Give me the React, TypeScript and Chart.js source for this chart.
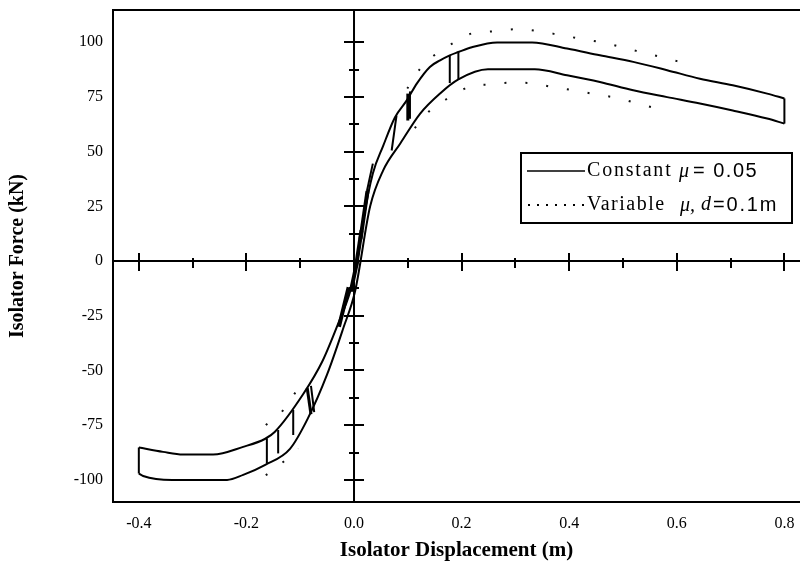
import React, { useEffect, useRef } from "react";
import { Chart, registerables } from "chart.js";

Chart.register(...registerables);

// ---- Constant mu = 0.05 : upper (loading) branch ----
const constUpperX = [-0.4, -0.355, -0.318, -0.262, -0.206, -0.165, -0.147, -0.095, -0.059, -0.03, -0.007, 0.006, 0.017, 0.035, 0.054, 0.076, 0.098, 0.117, 0.141, 0.16, 0.178, 0.194, 0.219, 0.266, 0.331, 0.396, 0.457, 0.519, 0.582, 0.643, 0.704, 0.768, 0.8];
const constUpperF = [-85.2, -87.2, -88.4, -88.4, -84.9, -81.2, -78.0, -61.0, -45.9, -28.9, -13.8, 0, 18.3, 40, 52.5, 65.6, 73.4, 81.2, 88.7, 91.7, 94.0, 95.5, 97.7, 99.9, 99.9, 97.1, 94.0, 91.0, 87.2, 83.3, 80.3, 76.5, 74.3];

// ---- Constant mu = 0.05 : lower (unloading) branch ----
const constLowerX = [-0.4, -0.392, -0.338, -0.236, -0.206, -0.165, -0.119, -0.086, -0.05, -0.02, 0.002, 0.03, 0.054, 0.086, 0.123, 0.16, 0.194, 0.249, 0.336, 0.396, 0.457, 0.519, 0.582, 0.643, 0.704, 0.768, 0.8];
const constLowerF = [-97.1, -98.2, -100, -100, -97.7, -93.1, -85.8, -72.0, -51.8, -30.7, -13.8, 25, 41.3, 53.7, 67.4, 76.6, 83.0, 87.6, 87.6, 84.9, 81.8, 78.0, 74.9, 72.0, 68.8, 65.1, 62.8];

// ---- Constant mu: reversal segments (end caps and inner sub-loops) ----
const segX1 = [0.8, -0.4, 0.178, 0.194, 0.1, 0.104, 0.079, 0.035, -0.162, -0.141, -0.113, -0.087, -0.08, -0.028, -0.006, 0.004, 0.012];
const segF1 = [74.3, -85.2, 94.0, 95.5, 76.5, 77.5, 66.5, 44.5, -81.0, -77.2, -68.0, -58.0, -57.0, -30, -14, -2, 10];
const segX2 = [0.8, -0.4, 0.178, 0.194, 0.1, 0.104, 0.07, 0.024, -0.162, -0.141, -0.113, -0.08, -0.074, -0.01, 0.006, 0.014, 0.025];
const segF2 = [62.8, -97.1, 81.3, 83.0, 64.2, 65.0, 50.5, 32.0, -92.5, -87.9, -79.5, -70.0, -69.0, -12, 0, 14, 32];
const segW = [2, 2, 2, 2, 3, 2, 2, 2, 2, 2, 2, 3, 2, 4, 4, 4, 4];

// ---- Variable mu, d = 0.1 m (dotted) ----
const varUpperPosX = [0.099, 0.124, 0.143, 0.185, 0.219, 0.262, 0.305, 0.344, 0.383, 0.425, 0.465, 0.507, 0.564, 0.606];
const varUpperPosF = [78.8, 88.2, 92.8, 99.7, 104, 105, 106, 105, 103.3, 101.4, 99.7, 97.1, 93.6, 91.0];
const varLowerPosX = [0.113, 0.128, 0.147, 0.17, 0.206, 0.227, 0.248, 0.29, 0.33, 0.369, 0.408, 0.451, 0.493, 0.528, 0.572];
const varLowerPosF = [60.7, 65.5, 70, 73.7, 78.8, 80.6, 80.6, 81.5, 81.3, 79.5, 78, 76.1, 74.3, 71.9, 69.1];
const varUpperNegX = [-0.164, -0.131, -0.122, -0.107, -0.099];
const varUpperNegF = [-74.9, -68.0, -65.0, -59.6, -58.4];
const varLowerNegX = [-0.164, -0.131, -0.113, -0.104];
const varLowerNegF = [-97.9, -91.7, -87.9, -85.6];

// ---- Axes ----
const xLabelValues = [-0.4, -0.2, 0.0, 0.2, 0.4, 0.6, 0.8];
const yLabelValues = [100, 75, 50, 25, 0, -25, -50, -75, -100];
const xAxisTickValues = [-0.4, -0.3, -0.2, -0.1, 0.1, 0.2, 0.3, 0.4, 0.5, 0.6, 0.7, 0.8];
const yAxisTickValues = [-100, -87.5, -75, -62.5, -50, -37.5, -25, -12.5, 12.5, 25, 37.5, 50, 62.5, 75, 87.5, 100];

const xTitle = "Isolator Displacement (m)";
const yTitle = "Isolator Force (kN)";

const pts = (xs: number[], ys: number[]) => xs.map((x, i) => ({ x, y: ys[i] }));

const SERIF = "'Liberation Serif', 'Times New Roman', serif";
const SANS = "'Liberation Sans', Arial, sans-serif";

const framePlugin = {
  id: "frameAxes",
  beforeDatasetsDraw(chart: any) {
    const { ctx, chartArea: a, scales } = chart;
    const xs = scales.x;
    const ys = scales.y;
    ctx.save();
    ctx.strokeStyle = "#000";
    ctx.lineWidth = 2;
    ctx.beginPath();
    ctx.moveTo(a.right, a.top);
    ctx.lineTo(a.left, a.top);
    ctx.lineTo(a.left, a.bottom);
    ctx.lineTo(a.right, a.bottom);
    ctx.stroke();
    const x0 = xs.getPixelForValue(0);
    const y0 = ys.getPixelForValue(0);
    ctx.beginPath();
    ctx.moveTo(a.left, y0);
    ctx.lineTo(a.right, y0);
    ctx.moveTo(x0, a.top);
    ctx.lineTo(x0, a.bottom);
    ctx.stroke();
    // ticks on the zero axes
    ctx.lineWidth = 2;
    ctx.beginPath();
    xAxisTickValues.forEach((v) => {
      const px = Math.round(xs.getPixelForValue(v));
      const major = Math.abs(Math.round(v * 10)) % 2 === 0;
      ctx.moveTo(px, y0 - (major ? 8 : 3));
      ctx.lineTo(px, y0 + (major ? 10 : 7));
    });
    yAxisTickValues.forEach((v) => {
      const py = Math.round(ys.getPixelForValue(v));
      const major = v % 25 === 0;
      ctx.moveTo(x0 - (major ? 10 : 5), py);
      ctx.lineTo(x0 + (major ? 10 : 5), py);
    });
    ctx.stroke();
    ctx.restore();
  },
  afterDatasetsDraw(chart: any) {
    const { ctx } = chart;
    ctx.save();
    // legend box
    const L = 521, T = 153, R = 792, B = 223;
    ctx.fillStyle = "#fff";
    ctx.fillRect(L, T, R - L, B - T);
    ctx.strokeStyle = "#000";
    ctx.lineWidth = 2;
    ctx.strokeRect(L, T, R - L, B - T);
    const r1 = 171, r2 = 205;
    ctx.lineWidth = 1.5;
    ctx.beginPath();
    ctx.moveTo(527, r1);
    ctx.lineTo(585, r1);
    ctx.stroke();
    ctx.fillStyle = "#000";
    for (let px = 528; px <= 585; px += 9) {
      ctx.fillRect(px, r2 - 1, 2, 2);
    }
    ctx.textBaseline = "middle";
    ctx.textAlign = "left";
    const put = (t: string, x: number, y: number, font: string, sp: string) => {
      ctx.font = font;
      (ctx as any).letterSpacing = sp;
      ctx.fillText(t, x, y);
    };
    put("Constant", 587, r1, `20px ${SERIF}`, "1.8px");
    put("\u03bc", 679, r1 + 1, `italic 20px ${SERIF}`, "0px");
    put("= 0.05", 693, r1, `20px ${SANS}`, "1.5px");
    put("Variable", 587, r2, `20px ${SERIF}`, "1.5px");
    put("\u03bc,", 680, r2 + 1, `italic 20px ${SERIF}`, "0px");
    put("d", 701, r2, `italic 20px ${SERIF}`, "0px");
    put("=0.1m", 713, r2, `20px ${SANS}`, "1.8px");
    (ctx as any).letterSpacing = "0px";
    ctx.restore();
  },
};

export default function App() {
  const ref = useRef<HTMLCanvasElement | null>(null);
  useEffect(() => {
    if (!ref.current) return;
    const solid = (data: any[], w = 2) => ({
      data,
      showLine: true,
      borderColor: "#000",
      backgroundColor: "#000",
      borderWidth: w,
      pointRadius: 0,
      fill: false,
      tension: 0.4,
      cubicInterpolationMode: "monotone",
    });
    const dotted = (data: any[]) => ({
      data,
      showLine: true,
      borderColor: "#111",
      backgroundColor: "#111",
      borderWidth: 2,
      borderDash: [2, 19],
      pointRadius: 0,
      fill: false,
      tension: 0.4,
      cubicInterpolationMode: "monotone",
    });
    const datasets: any[] = [
      { label: "Constant \u03bc = 0.05", ...solid(pts(constUpperX, constUpperF)) },
      { label: "Constant \u03bc = 0.05 (unloading)", ...solid(pts(constLowerX, constLowerF)) },
      ...segX1.map((_, i) => ({
        label: "seg" + i,
        ...solid(
          [
            { x: segX1[i], y: segF1[i] },
            { x: segX2[i], y: segF2[i] },
          ],
          segW[i]
        ),
        tension: 0,
      })),
      { label: "Variable \u03bc, d=0.1m", ...dotted(pts(varUpperPosX, varUpperPosF)) },
      { label: "Variable lower +", ...dotted(pts(varLowerPosX, varLowerPosF)) },
      { label: "Variable upper -", ...dotted(pts(varUpperNegX, varUpperNegF)) },
      { label: "Variable lower -", ...dotted(pts(varLowerNegX, varLowerNegF)) },
    ];
    const chart = new Chart(ref.current, {
      type: "scatter",
      data: { datasets },
      plugins: [framePlugin],
      options: {
        animation: false,
        responsive: false,
        layout: { padding: { top: 10, right: 0, bottom: 0, left: 0 } },
        plugins: { legend: { display: false }, tooltip: { enabled: false } },
        scales: {
          x: {
            type: "linear",
            min: -0.448,
            max: 0.829,
            afterFit: (s: any) => {
              s.height = 65;
              s.paddingLeft = 0;
              s.paddingRight = 0;
            },
            afterBuildTicks: (s: any) => {
              s.ticks = xLabelValues.map((v) => ({ value: v }));
            },
            grid: { display: false, drawTicks: false },
            border: { display: false },
            ticks: {
              autoSkip: false,
              maxRotation: 0,
              padding: 12,
              color: "#000",
              font: { family: SERIF, size: 16 },
              callback: (v: any) => Number(v).toFixed(1),
            },
            title: {
              display: true,
              text: xTitle,
              color: "#000",
              font: { family: SERIF, size: 21, weight: "bold" },
              padding: { top: 0, bottom: 4 },
            },
          },
          y: {
            type: "linear",
            min: -110.1,
            max: 114.7,
            afterFit: (s: any) => {
              s.width = 113;
              s.paddingTop = 0;
              s.paddingBottom = 0;
            },
            afterBuildTicks: (s: any) => {
              s.ticks = yLabelValues.map((v) => ({ value: v }));
            },
            grid: { display: false, drawTicks: false },
            border: { display: false },
            ticks: {
              autoSkip: false,
              padding: 10,
              color: "#000",
              font: { family: SERIF, size: 16 },
              callback: (v: any) => String(v),
            },
            title: {
              display: true,
              text: yTitle,
              color: "#000",
              font: { family: SERIF, size: 20, weight: "bold" },
              padding: { top: 6, bottom: 0 },
            },
          },
        },
      } as any,
    });
    return () => chart.destroy();
  }, []);
  return (
    <div style={{ position: "absolute", left: 0, top: 0, width: 800, height: 567, background: "#fff" }}>
      <canvas ref={ref} width={800} height={567} />
    </div>
  );
}
